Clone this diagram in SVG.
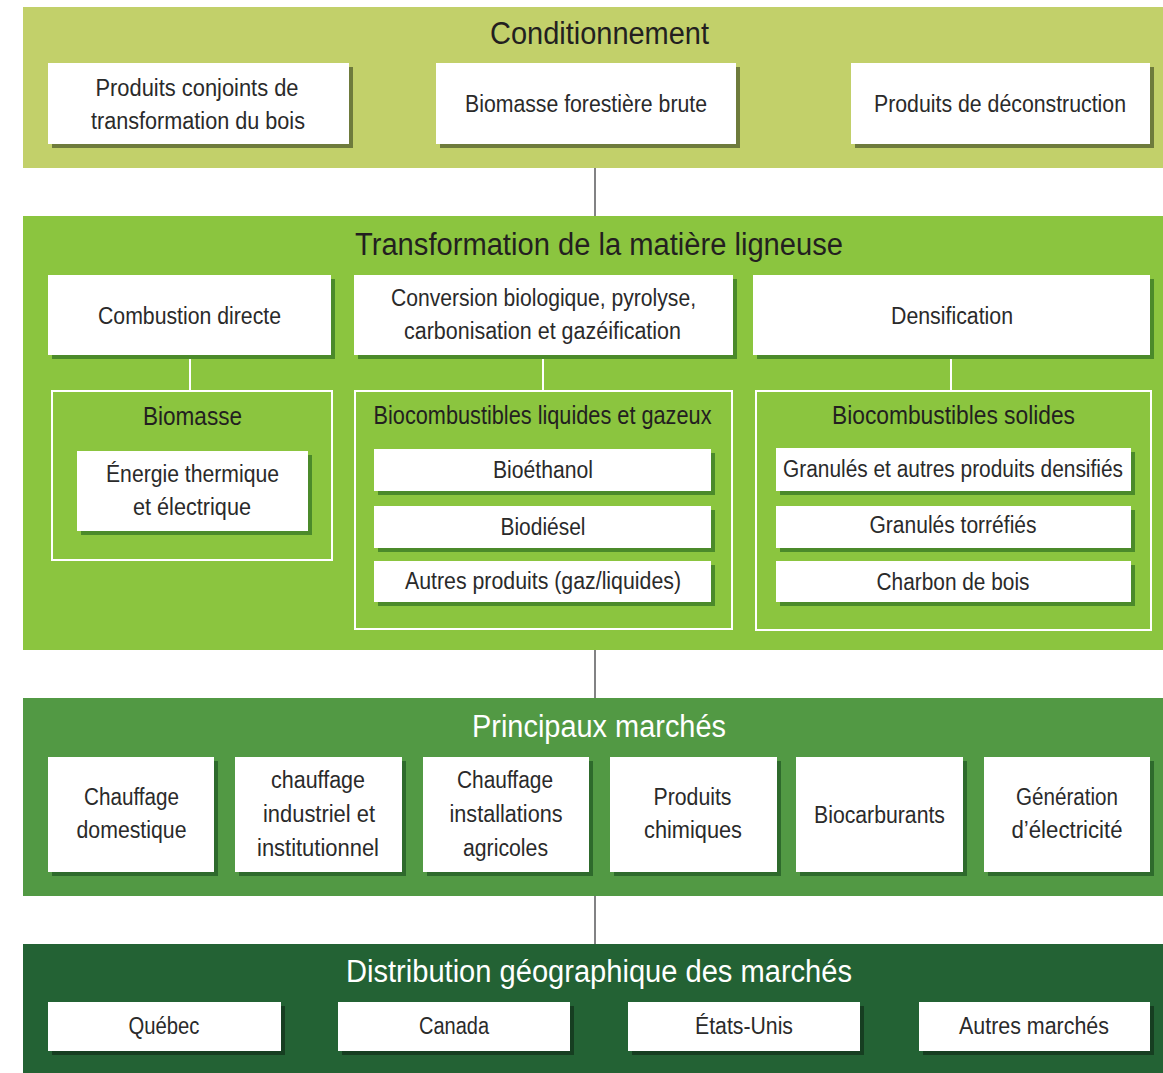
<svg xmlns="http://www.w3.org/2000/svg" width="1163" height="1073" viewBox="0 0 1163 1073">
<style>
text{font-family:"Liberation Sans Narrow","Liberation Sans",Arial,sans-serif;text-anchor:middle;fill:#2a2a2a}
.t{font-size:23px}
.h{font-size:31px;fill:#231f20}
.hw{font-size:31px;fill:#ffffff}
.s{font-size:25px;fill:#231f20}
.box{fill:#ffffff}
.sh1{fill:#6e7b3c}
.sh2{fill:#4b8a2a}
.sh3{fill:#2e6a2c}
.sh4{fill:#163e21}
.frame{fill:none;stroke:#ffffff;stroke-width:2}
.conn{stroke:#58595b;stroke-width:1.5;fill:none}
.wconn{stroke:#ffffff;stroke-width:2;fill:none}
</style>
<rect width="1163" height="1073" fill="#ffffff"/>
<!-- Bands -->
<g id="band-conditionnement">
<rect x="23" y="7" width="1140" height="161" fill="#c2d06a"/>
<text class="h" x="599.5" y="44" textLength="219" lengthAdjust="spacingAndGlyphs">Conditionnement</text>
</g>
<g id="band-transformation">
<rect x="23" y="216" width="1140" height="434" fill="#8bc53f"/>
<text class="h" x="599" y="255" textLength="488" lengthAdjust="spacingAndGlyphs">Transformation de la matière ligneuse</text>
</g>
<g id="band-marches">
<rect x="23" y="698" width="1140" height="198" fill="#529944"/>
<text class="hw" x="599" y="737" textLength="254" lengthAdjust="spacingAndGlyphs">Principaux marchés</text>
</g>
<g id="band-distribution">
<rect x="23" y="944" width="1140" height="129" fill="#236234"/>
<text class="hw" x="599" y="982" textLength="506" lengthAdjust="spacingAndGlyphs">Distribution géographique des marchés</text>
</g>
<!-- Connectors -->
<g id="connectors">
<line class="conn" x1="595" y1="168" x2="595" y2="216"/>
<line class="conn" x1="595" y1="650" x2="595" y2="698"/>
<line class="conn" x1="595" y1="896" x2="595" y2="944"/>
<line class="wconn" x1="190" y1="355" x2="190" y2="391"/>
<line class="wconn" x1="543" y1="359" x2="543" y2="391"/>
<line class="wconn" x1="951" y1="355" x2="951" y2="391"/>
</g>
<!-- Band 1 nodes -->
<g id="produits-conjoints">
<rect class="sh1" x="52" y="67" width="301" height="81"/>
<rect class="box" x="48" y="63" width="301" height="81"/>
<text class="t" x="197" y="96" textLength="203" lengthAdjust="spacingAndGlyphs">Produits conjoints de</text>
<text class="t" x="198" y="129" textLength="214" lengthAdjust="spacingAndGlyphs">transformation du bois</text>
</g>
<g id="biomasse-brute">
<rect class="sh1" x="440" y="67" width="300" height="81"/>
<rect class="box" x="436" y="63" width="300" height="81"/>
<text class="t" x="586" y="112" textLength="242" lengthAdjust="spacingAndGlyphs">Biomasse forestière brute</text>
</g>
<g id="produits-deconstruction">
<rect class="sh1" x="855" y="67" width="299" height="81"/>
<rect class="box" x="851" y="63" width="299" height="81"/>
<text class="t" x="1000" y="112" textLength="252" lengthAdjust="spacingAndGlyphs">Produits de déconstruction</text>
</g>
<!-- Band 2 nodes -->
<g id="combustion-directe">
<rect class="sh2" x="52" y="279" width="283" height="80"/>
<rect class="box" x="48" y="275" width="283" height="80"/>
<text class="t" x="189.5" y="324" textLength="183" lengthAdjust="spacingAndGlyphs">Combustion directe</text>
</g>
<g id="conversion">
<rect class="sh2" x="358" y="279" width="379" height="80"/>
<rect class="box" x="354" y="275" width="379" height="80"/>
<text class="t" x="543.5" y="306" textLength="305" lengthAdjust="spacingAndGlyphs">Conversion biologique, pyrolyse,</text>
<text class="t" x="542.5" y="339" textLength="277" lengthAdjust="spacingAndGlyphs">carbonisation et gazéification</text>
</g>
<g id="densification">
<rect class="sh2" x="757" y="279" width="397" height="80"/>
<rect class="box" x="753" y="275" width="397" height="80"/>
<text class="t" x="952" y="324" textLength="122" lengthAdjust="spacingAndGlyphs">Densification</text>
</g>
<g id="groupe-biomasse">
<rect class="frame" x="52" y="391" width="280" height="169"/>
<text class="s" x="192.5" y="425" textLength="99" lengthAdjust="spacingAndGlyphs">Biomasse</text>
</g>
<g id="energie-thermique">
<rect class="sh2" x="81" y="455" width="231" height="80"/>
<rect class="box" x="77" y="451" width="231" height="80"/>
<text class="t" x="192.5" y="482" textLength="173" lengthAdjust="spacingAndGlyphs">Énergie thermique</text>
<text class="t" x="192" y="515" textLength="118" lengthAdjust="spacingAndGlyphs">et électrique</text>
</g>
<g id="groupe-liquides">
<rect class="frame" x="355" y="391" width="377" height="238"/>
<text class="s" x="542.5" y="424" textLength="338" lengthAdjust="spacingAndGlyphs">Biocombustibles liquides et gazeux</text>
</g>
<g id="bioethanol">
<rect class="sh2" x="378" y="453" width="337" height="42"/>
<rect class="box" x="374" y="449" width="337" height="42"/>
<text class="t" x="543" y="478" textLength="100" lengthAdjust="spacingAndGlyphs">Bioéthanol</text>
</g>
<g id="biodiesel">
<rect class="sh2" x="378" y="510" width="337" height="42"/>
<rect class="box" x="374" y="506" width="337" height="42"/>
<text class="t" x="543" y="535" textLength="85" lengthAdjust="spacingAndGlyphs">Biodiésel</text>
</g>
<g id="autres-produits">
<rect class="sh2" x="378" y="565" width="337" height="41"/>
<rect class="box" x="374" y="561" width="337" height="41"/>
<text class="t" x="543" y="589" textLength="276" lengthAdjust="spacingAndGlyphs">Autres produits (gaz/liquides)</text>
</g>
<g id="groupe-solides">
<rect class="frame" x="756" y="391" width="395" height="239"/>
<text class="s" x="953.5" y="424" textLength="243" lengthAdjust="spacingAndGlyphs">Biocombustibles solides</text>
</g>
<g id="granules">
<rect class="sh2" x="780" y="452" width="355" height="43"/>
<rect class="box" x="776" y="448" width="355" height="43"/>
<text class="t" x="953" y="477" textLength="340" lengthAdjust="spacingAndGlyphs">Granulés et autres produits densifiés</text>
</g>
<g id="granules-torrefies">
<rect class="sh2" x="780" y="510" width="355" height="42"/>
<rect class="box" x="776" y="506" width="355" height="42"/>
<text class="t" x="953" y="533" textLength="167" lengthAdjust="spacingAndGlyphs">Granulés torréfiés</text>
</g>
<g id="charbon-bois">
<rect class="sh2" x="780" y="565" width="355" height="41"/>
<rect class="box" x="776" y="561" width="355" height="41"/>
<text class="t" x="953" y="590" textLength="153" lengthAdjust="spacingAndGlyphs">Charbon de bois</text>
</g>
<!-- Band 3 nodes -->
<g id="chauffage-domestique">
<rect class="sh3" x="52" y="761" width="166" height="115"/>
<rect class="box" x="48" y="757" width="166" height="115"/>
<text class="t" x="131.5" y="805" textLength="95" lengthAdjust="spacingAndGlyphs">Chauffage</text>
<text class="t" x="131.5" y="838" textLength="110" lengthAdjust="spacingAndGlyphs">domestique</text>
</g>
<g id="chauffage-industriel">
<rect class="sh3" x="239" y="761" width="167" height="115"/>
<rect class="box" x="235" y="757" width="167" height="115"/>
<text class="t" x="318" y="788" textLength="94" lengthAdjust="spacingAndGlyphs">chauffage</text>
<text class="t" x="319" y="821.5" textLength="112" lengthAdjust="spacingAndGlyphs">industriel et</text>
<text class="t" x="318" y="855.5" textLength="122" lengthAdjust="spacingAndGlyphs">institutionnel</text>
</g>
<g id="chauffage-agricole">
<rect class="sh3" x="427" y="761" width="166" height="115"/>
<rect class="box" x="423" y="757" width="166" height="115"/>
<text class="t" x="505" y="788" textLength="96" lengthAdjust="spacingAndGlyphs">Chauffage</text>
<text class="t" x="506" y="821.5" textLength="113" lengthAdjust="spacingAndGlyphs">installations</text>
<text class="t" x="505.5" y="855.5" textLength="85" lengthAdjust="spacingAndGlyphs">agricoles</text>
</g>
<g id="produits-chimiques">
<rect class="sh3" x="614" y="761" width="167" height="115"/>
<rect class="box" x="610" y="757" width="167" height="115"/>
<text class="t" x="692.5" y="805" textLength="78" lengthAdjust="spacingAndGlyphs">Produits</text>
<text class="t" x="693" y="838" textLength="98" lengthAdjust="spacingAndGlyphs">chimiques</text>
</g>
<g id="biocarburants">
<rect class="sh3" x="800" y="761" width="167" height="115"/>
<rect class="box" x="796" y="757" width="167" height="115"/>
<text class="t" x="879.5" y="822.5" textLength="131" lengthAdjust="spacingAndGlyphs">Biocarburants</text>
</g>
<g id="generation-electricite">
<rect class="sh3" x="988" y="761" width="166" height="115"/>
<rect class="box" x="984" y="757" width="166" height="115"/>
<text class="t" x="1067" y="805" textLength="102" lengthAdjust="spacingAndGlyphs">Génération</text>
<text class="t" x="1067" y="838" textLength="111" lengthAdjust="spacingAndGlyphs">d’électricité</text>
</g>
<!-- Band 4 nodes -->
<g id="quebec">
<rect class="sh4" x="52" y="1006" width="233" height="49"/>
<rect class="box" x="48" y="1002" width="233" height="49"/>
<text class="t" x="164" y="1034" textLength="71" lengthAdjust="spacingAndGlyphs">Québec</text>
</g>
<g id="canada">
<rect class="sh4" x="342" y="1006" width="232" height="49"/>
<rect class="box" x="338" y="1002" width="232" height="49"/>
<text class="t" x="454" y="1034" textLength="70" lengthAdjust="spacingAndGlyphs">Canada</text>
</g>
<g id="etats-unis">
<rect class="sh4" x="632" y="1006" width="232" height="49"/>
<rect class="box" x="628" y="1002" width="232" height="49"/>
<text class="t" x="744" y="1034" textLength="98" lengthAdjust="spacingAndGlyphs">États-Unis</text>
</g>
<g id="autres-marches">
<rect class="sh4" x="923" y="1006" width="231" height="49"/>
<rect class="box" x="919" y="1002" width="231" height="49"/>
<text class="t" x="1034" y="1034" textLength="150" lengthAdjust="spacingAndGlyphs">Autres marchés</text>
</g>
</svg>
